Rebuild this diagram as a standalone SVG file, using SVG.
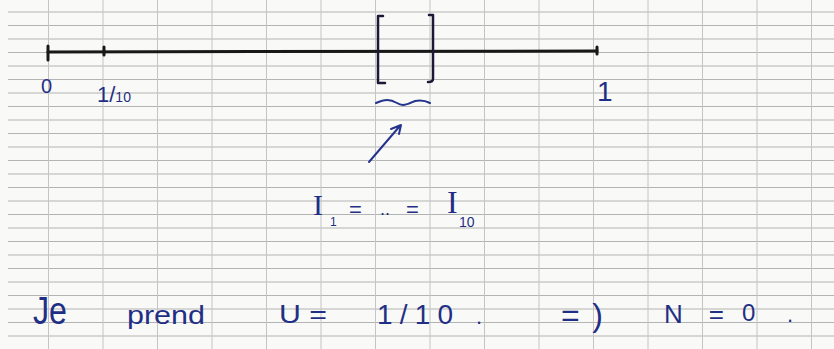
<svg xmlns="http://www.w3.org/2000/svg" width="834" height="349" viewBox="0 0 834 349">
<defs>
<style>
.hl{stroke:#b3b3b3;stroke-width:1.1;fill:none}
.vl{stroke:#c4c4c4;stroke-width:1;fill:none}
.ink{fill:#1f2f86;font-family:"Liberation Sans","DejaVu Sans",sans-serif}
.serif{fill:#1f2f86;font-family:"Liberation Serif","DejaVu Serif",serif}
.axis{stroke:#181818;stroke-width:3;fill:none;stroke-linecap:round}
.brk{stroke:#1a1a36;stroke-width:2.5;fill:none;stroke-linecap:round;stroke-linejoin:round}
.pen{stroke:#24348c;stroke-width:2;fill:none;stroke-linecap:round;stroke-linejoin:round}
</style>
</defs>
<rect width="834" height="349" fill="#f9f9f7"/>
<g id="grid">
<g class="hl">
<path d="M8,12H834M8,25.5H834M8,39H834M8,52.5H834M8,66H834M8,79.5H834M8,93H834M8,106.5H834M8,120H834M8,133.5H834M8,147H834M8,160.5H834M8,174H834M8,187.5H834M8,201H834M8,214.5H834M8,228H834M8,241.5H834M8,255H834M8,268.5H834M8,282H834M8,295.5H834M8,309H834M8,322.5H834M8,336H834"/>
</g>
<g class="vl">
<path d="M48.5,0V349M103,0V349M157.5,0V349M212,0V349M266.5,0V349M321,0V349M375.5,0V349M430,0V349M484.5,0V349M539,0V349M593.5,0V349M648,0V349M702.5,0V349M757,0V349M811.5,0V349"/>
</g>
</g>
<g id="axis">
<path class="axis" d="M48,52 L597,51"/>
<path class="axis" d="M48,46 L48,60 M104,47 L104,55 M597,47 L597,54"/>
</g>
<g id="interval">
<path class="brk" d="M383,16 L378,16 L378,83 L385,83"/>
<path class="brk" d="M429,15 L433,15 L433,79 Q433,82 428,82"/>
<path class="pen" d="M376,103 C385,99 390,99 397,103 C403,107 408,104 415,101 C420,100 426,101 430,103"/>
<path class="pen" d="M369,162 L399,127 M391,129 L401,125 L399,134"/>
</g>
<g id="axis-labels">
<text class="ink" x="41" y="93" font-size="20">0</text>
<text class="ink" x="97" y="102" font-size="22">1/<tspan font-size="14">10</tspan></text>
<text class="ink" x="597" y="101" font-size="28">1</text>
</g>
<g id="equality">
<text class="serif" x="313" y="215" font-size="30">I</text>
<text class="ink" x="330" y="226" font-size="12">1</text>
<text class="ink" x="349" y="217" font-size="22">=</text>
<text class="ink" x="380" y="215" font-size="18">..</text>
<text class="ink" x="406" y="217" font-size="22">=</text>
<text class="serif" x="447" y="213" font-size="32">I</text>
<text class="ink" x="459" y="227" font-size="14">10</text>
</g>
<g id="conclusion">
<text class="ink" x="33" y="324" font-size="38" textLength="34" lengthAdjust="spacingAndGlyphs">Je</text>
<text class="ink" x="127" y="324" font-size="26" textLength="78" lengthAdjust="spacingAndGlyphs">prend</text>
<text class="ink" x="279" y="323" font-size="26" textLength="48" lengthAdjust="spacingAndGlyphs">U =</text>
<text class="ink" x="377" y="324" font-size="28" textLength="76">1/10</text>
<text class="ink" x="476" y="324" font-size="22">.</text>
<text class="ink" x="561" y="326" font-size="32" textLength="42">=)</text>
<text class="ink" x="664" y="323" font-size="26" textLength="60">N =</text>
<text class="ink" x="742" y="321" font-size="24">0</text>
<text class="ink" x="787" y="322" font-size="22">.</text>
</g>
</svg>
